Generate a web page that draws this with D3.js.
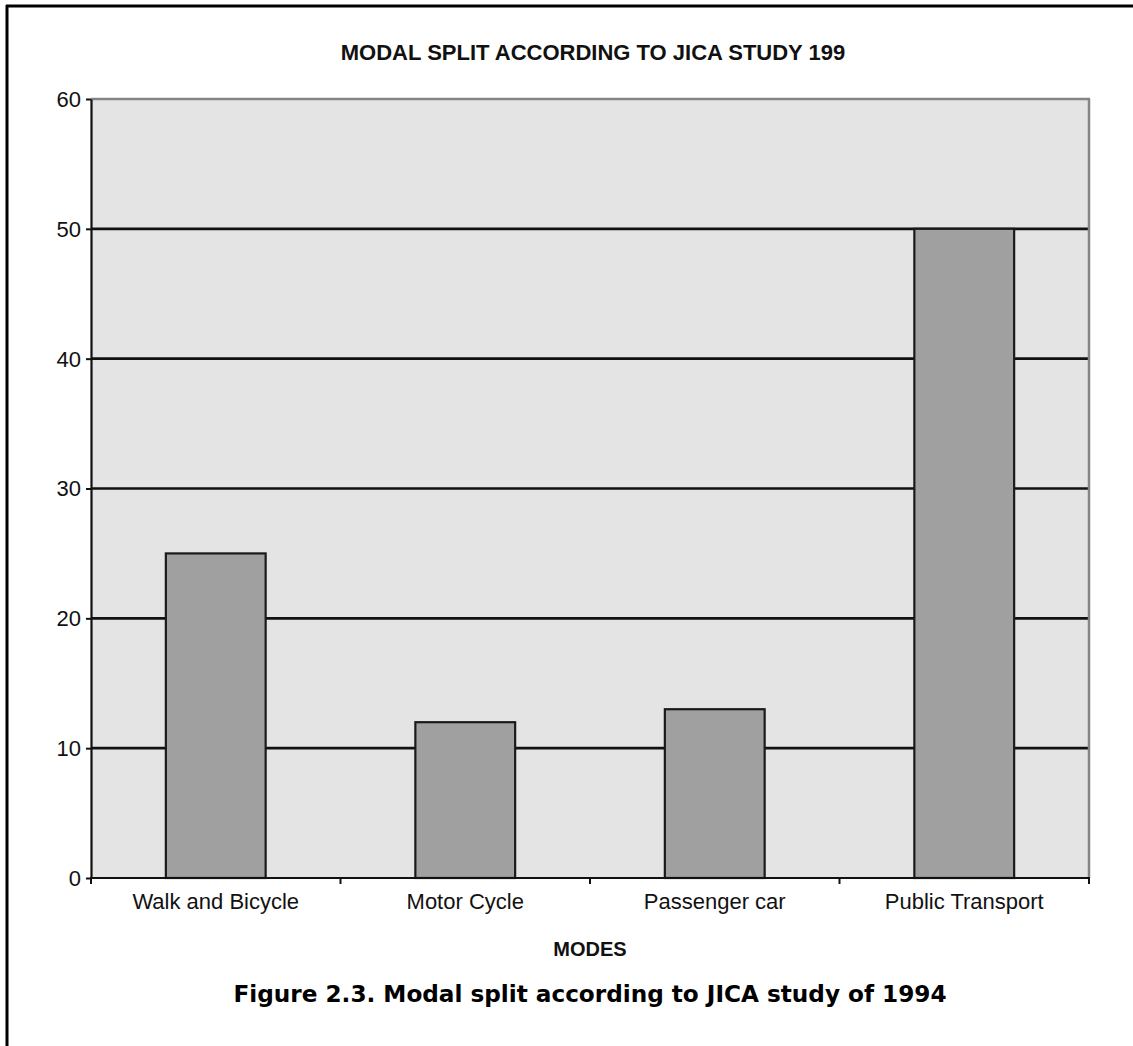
<!DOCTYPE html>
<html>
<head>
<meta charset="utf-8">
<script src="https://cdn.jsdelivr.net/npm/d3@7"></script>
<style>
  html, body { margin: 0; padding: 0; background: #fff; }
  svg { display: block; }
</style>
</head>
<body>
<svg id="chart" width="1133" height="1046"></svg>
<script>
const categories = ["Walk and Bicycle", "Motor Cycle", "Passenger car", "Public Transport"];
const values = [25, 12, 13, 50];
const yTicks = [0, 10, 20, 30, 40, 50, 60];
const chartTitle = "MODAL SPLIT ACCORDING TO JICA STUDY 199";
const xAxisTitle = "MODES";
const caption = "Figure 2.3. Modal split according to JICA study of 1994";

const svg = d3.select("#chart");
const W = 1133, H = 1046;
const plot = { left: 91, right: 1089, top: 99, bottom: 878 };

// page frame (top and left edges visible)
svg.append("line").attr("x1", 6).attr("x2", W).attr("y1", 6).attr("y2", 6)
  .attr("stroke", "#000").attr("stroke-width", 3);
svg.append("line").attr("x1", 7).attr("x2", 7).attr("y1", 5).attr("y2", H)
  .attr("stroke", "#000").attr("stroke-width", 3);

const x = d3.scaleBand().domain(categories).range([plot.left, plot.right]).paddingInner(0.6).paddingOuter(0.3);
const xEdges = d3.scaleBand().domain(categories).range([plot.left, plot.right]).padding(0);
const y = d3.scaleLinear().domain([0, 60]).range([plot.bottom, plot.top]);

// plot area background
svg.append("rect").attr("x", plot.left).attr("y", plot.top)
  .attr("width", plot.right - plot.left).attr("height", plot.bottom - plot.top)
  .attr("fill", "#e4e4e4");

// gridlines
svg.append("g").selectAll("line").data(yTicks.filter(t => t > 0 && t < 60)).join("line")
  .attr("x1", plot.left).attr("x2", plot.right)
  .attr("y1", d => y(d)).attr("y2", d => y(d))
  .attr("stroke", "#111").attr("stroke-width", 2.6);

// top and right border of plot area (gray)
svg.append("line").attr("x1", plot.left).attr("x2", plot.right + 1)
  .attr("y1", y(60)).attr("y2", y(60)).attr("stroke", "#858585").attr("stroke-width", 2.5);
svg.append("line").attr("x1", plot.right).attr("x2", plot.right)
  .attr("y1", y(60)).attr("y2", plot.bottom).attr("stroke", "#858585").attr("stroke-width", 2.5);

// bars
svg.append("g").selectAll("rect").data(values).join("rect")
  .attr("x", (d, i) => x(categories[i]))
  .attr("y", d => y(d))
  .attr("width", x.bandwidth())
  .attr("height", d => y(0) - y(d))
  .attr("fill", "#a0a0a0")
  .attr("stroke", "#1a1a1a").attr("stroke-width", 2.2);

// y axis
const yAxis = d3.axisLeft(y).tickValues(yTicks).tickSize(5).tickPadding(5).tickSizeOuter(0);
const gy = svg.append("g").attr("transform", `translate(${plot.left},0)`).call(yAxis);
gy.select(".domain").attr("stroke", "#111").attr("stroke-width", 2.2);
gy.selectAll(".tick line").attr("stroke", "#111").attr("stroke-width", 2);
gy.selectAll(".tick text").attr("font-family", "Liberation Sans, Arial, sans-serif")
  .attr("font-size", 22).attr("fill", "#111").attr("dy", "0.34em");

// x axis: ticks at band edges
const edgeVals = categories.map(c => xEdges(c)).concat([plot.right]);
const gx = svg.append("g").attr("transform", `translate(0,${plot.bottom})`);
gx.append("line").attr("x1", plot.left - 1).attr("x2", plot.right + 1)
  .attr("stroke", "#111").attr("stroke-width", 2.2);
gx.selectAll("line.tk").data(edgeVals).join("line").attr("class", "tk")
  .attr("x1", d => d).attr("x2", d => d).attr("y1", 0).attr("y2", 6)
  .attr("stroke", "#111").attr("stroke-width", 2);
gx.selectAll("text").data(categories).join("text")
  .attr("x", d => xEdges(d) + xEdges.bandwidth() / 2)
  .attr("y", 31)
  .attr("text-anchor", "middle")
  .attr("font-family", "Liberation Sans, Arial, sans-serif")
  .attr("font-size", 22).attr("fill", "#111")
  .text(d => d);

// titles
svg.append("text").attr("x", 593).attr("y", 60).attr("text-anchor", "middle")
  .attr("font-family", "Liberation Sans, Arial, sans-serif").attr("font-weight", "bold")
  .attr("font-size", 22).attr("fill", "#111").text(chartTitle);
svg.append("text").attr("x", 590).attr("y", 956).attr("text-anchor", "middle")
  .attr("font-family", "Liberation Sans, Arial, sans-serif").attr("font-weight", "bold")
  .attr("font-size", 20).attr("fill", "#111").text(xAxisTitle);
svg.append("text").attr("x", 590).attr("y", 1002).attr("text-anchor", "middle")
  .attr("font-family", "Liberation Sans Narrow, DejaVu Sans Condensed, Roboto, sans-serif")
  .attr("font-weight", "bold").attr("font-size", 23).attr("fill", "#000")
  .attr("textLength", 713).attr("lengthAdjust", "spacingAndGlyphs")
  .text(caption);
</script>
</body>
</html>
